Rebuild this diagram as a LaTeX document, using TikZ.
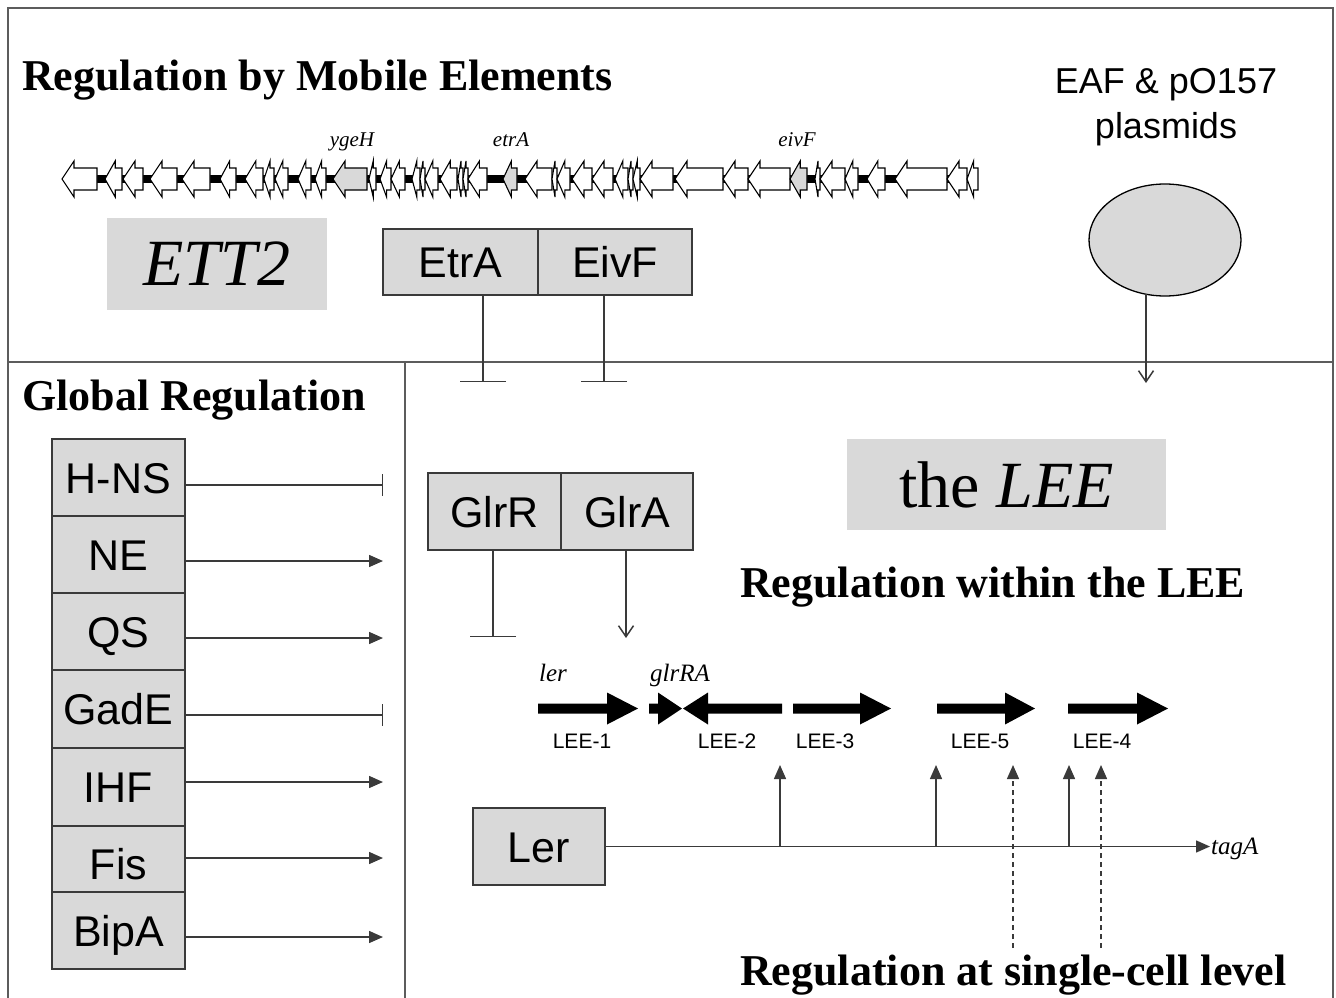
\documentclass[tikz,border=0pt]{standalone}
\usepackage{fontspec}
\setmainfont{Liberation Serif}
\setsansfont{Liberation Sans}
\usetikzlibrary{arrows.meta,shapes.geometric,calc}

\definecolor{boxgray}{HTML}{D9D9D9}
\definecolor{framegray}{HTML}{5C5C5C}
\definecolor{wire}{HTML}{3A3A3A}

\newcommand{\fsz}[1]{\fontsize{#1}{#1}\selectfont}

\begin{document}
\begin{tikzpicture}[x=1pt,y=-1pt,
  panel/.style={draw=framegray, line width=2.5pt},
  gbox/.style={draw=wire, fill=boxgray, line width=1.4pt, inner sep=0pt,
    font=\sffamily\fsz{43}, text height=31pt, text depth=0pt},
  graybox/.style={fill=boxgray, inner sep=0pt},
  title/.style={anchor=base west, inner sep=0pt, font=\bfseries\fsz{44}},
  wireline/.style={draw=wire, line width=1.5pt},
  act/.style={wireline, -{Triangle[length=14pt,width=12pt]}},
  actopen/.style={wireline, -{Straight Barb[length=11pt,width=15pt]}},
  inhshort/.style={wireline, -{Bar[width=22pt]}},
  inhwide/.style={wireline, -{Bar[width=46pt]}},
  dashact/.style={act, dash pattern=on 5pt off 4pt},
  genelabel/.style={font=\itshape\fsz{21}, anchor=base, inner sep=0pt},
  leelabel/.style={font=\sffamily\fsz{21}, inner sep=0pt},
  oplabel/.style={font=\itshape\fsz{25}, anchor=base, inner sep=0pt},
]
\useasboundingbox (0,0) rectangle (1336,998);

% panel frame and dividers
\draw[panel] (8,998) -- (8,8) -- (1333,8) -- (1333,998);
\draw[panel] (8,362) -- (1333,362);
\draw[panel] (405,362) -- (405,998);

% ---------------- mobile elements ----------------
\node[title] (tmob) at (22,90) {Regulation by Mobile Elements};

% ETT2 gene map: backbone then genes (start/end/direction/fill)
\draw[line width=8pt] (64,179) -- (976,179);
\foreach \s/\e/\d/\c in {
  62/97/L/white, 105/122/L/white, 123/143/L/white, 150/177/L/white,
  182/210/R/white, 220/236/R/white, 245/263/R/white, 264/274/R/white,
  275/288/L/white, 298/311/R/white, 315/326/R/white, 333/367/R/boxgray,
  369/376/R/white, 380/391/R/white, 391/405/L/white, 412/420/R/white,
  420/425/L/white, 425/438/L/white, 440/457/L/white, 458/463/L/white,
  463/468/L/white, 468/487/L/white, 503/517/R/boxgray, 525/552/L/white,
  552/557/R/white, 557/570/L/white, 572/592/L/white, 592/613/L/white,
  615/628/L/white, 628/633/L/white, 633/640/L/white, 640/673/L/white,
  675/723/L/white, 723/748/L/white, 748/790/L/white, 790/807/L/boxgray,
  815/820/L/white, 820/845/L/white, 845/858/L/white, 867/885/L/white,
  895/947/R/white, 947/967/R/white, 967/978/R/white}{
  \pgfmathsetmacro{\h}{min(12,0.6*(\e-\s))}
  \ifx\d R
    \filldraw[fill=\c, draw=black, line width=1.1pt]
      (\s,168) -- (\e-\h,168) -- (\e-\h,161) -- (\e,179) -- (\e-\h,197)
      -- (\e-\h,190) -- (\s,190) -- cycle;
  \else
    \filldraw[fill=\c, draw=black, line width=1.1pt]
      (\e,168) -- (\s+\h,168) -- (\s+\h,161) -- (\s,179) -- (\s+\h,197)
      -- (\s+\h,190) -- (\e,190) -- cycle;
  \fi
}
\node[genelabel] (ygeh) at (352,146) {ygeH};
\node[genelabel] (etrag) at (511,146) {etrA};
\node[genelabel] (eivfg) at (797,146) {eivF};

\node[graybox, minimum width=220pt, minimum height=92pt, font=\itshape\fsz{66}]
  (ett2) at (217,264) {ETT2};

\node[gbox, minimum width=155pt, minimum height=66pt] (etra) at (460.5,262) {EtrA};
\node[gbox, minimum width=154pt, minimum height=66pt] (eivf) at (615,262) {EivF};
\coordinate (etraT) at (483,382);
\coordinate (eivfT) at (604,382);
\draw[inhwide] (etra.south -| etraT) -- (etraT);
\draw[inhwide] (eivf.south -| eivfT) -- (eivfT);

\node[font=\sffamily\fontsize{36}{45}\selectfont, align=center] (eaf)
  at (1166,107) {EAF \& pO157\\plasmids};
\node[ellipse, draw=black, fill=boxgray, line width=1.3pt,
  minimum width=152pt, minimum height=112pt, inner sep=0pt] (plasmid) at (1165,240) {};
\coordinate (pout) at (1146,294);
\coordinate (pin) at (1146,383);
\draw[actopen] (pout) -- (pin);

% ---------------- global regulation ----------------
\node[title] (tglob) at (22,410) {Global Regulation};

\node[gbox, minimum width=133pt, minimum height=77pt] (hns)  at (118.5,477.5) {H-NS};
\node[gbox, minimum width=133pt, minimum height=77pt] (ne)   at (118.5,554.5) {NE};
\node[gbox, minimum width=133pt, minimum height=77pt] (qs)   at (118.5,631.5) {QS};
\node[gbox, minimum width=133pt, minimum height=78pt] (gade) at (118.5,709) {GadE};
\node[gbox, minimum width=133pt, minimum height=78pt] (ihf)  at (118.5,787) {IHF};
\node[gbox, minimum width=133pt, minimum height=66pt] (fis)  at (118.5,859) {\raisebox{-5pt}{Fis}};
\node[gbox, minimum width=133pt, minimum height=77pt] (bipa) at (118.5,930.5) {BipA};

\coordinate (ghns) at (383,485);
\coordinate (gne) at (383,561);
\coordinate (gqs) at (383,638);
\coordinate (ggade) at (383,715);
\coordinate (gihf) at (383,782);
\coordinate (gfis) at (383,858);
\coordinate (gbipa) at (383,937);
\draw[inhshort] (ghns -| hns.east) -- (ghns);
\draw[act] (gne -| ne.east) -- (gne);
\draw[act] (gqs -| qs.east) -- (gqs);
\draw[inhshort] (ggade -| gade.east) -- (ggade);
\draw[act] (gihf -| ihf.east) -- (gihf);
\draw[act] (gfis -| fis.east) -- (gfis);
\draw[act] (gbipa -| bipa.east) -- (gbipa);

% ---------------- the LEE ----------------
\node[graybox, minimum width=319pt, minimum height=91pt, font=\fsz{66}]
  (lee) at (1006.5,484.5) {the \textit{LEE}};

\node[gbox, minimum width=133pt, minimum height=77pt] (glrr) at (494.5,511.5) {GlrR};
\node[gbox, minimum width=132pt, minimum height=77pt] (glra) at (627,511.5) {GlrA};
\coordinate (glrrT) at (493,637);
\coordinate (glraT) at (626,638);
\draw[inhwide] (glrr.south -| glrrT) -- (glrrT);
\draw[actopen] (glra.south -| glraT) -- (glraT);

\node[title] (twithin) at (740,597) {Regulation within the LEE};

% operons: tail/tip/head length (right-pointing) or tip/tail (left)
\foreach \t/\p/\h in {538/638/31, 649/682/24, 793/891/31, 937/1035/30, 1068/1168/31}{
  \fill (\t,703.5) -- (\p-\h,703.5) -- (\p-\h,692.5) -- (\p,708.5)
    -- (\p-\h,724.5) -- (\p-\h,713.5) -- (\t,713.5) -- cycle;
}
\fill (782,703.5) -- (708,703.5) -- (708,692.5) -- (683,708.5)
  -- (708,724.5) -- (708,713.5) -- (782,713.5) -- cycle;

\node[oplabel] (lerg) at (553,681) {ler};
\node[oplabel] (glrrag) at (680,681) {glrRA};
\node[leelabel] (lee1) at (582,741) {LEE-1};
\node[leelabel] (lee2) at (727,741) {LEE-2};
\node[leelabel] (lee3) at (825,741) {LEE-3};
\node[leelabel] (lee5) at (980,741) {LEE-5};
\node[leelabel] (lee4) at (1102,741) {LEE-4};

% Ler activation along the island
\node[gbox, minimum width=132pt, minimum height=77pt] (ler) at (539,846.5) {Ler};
\node[font=\itshape\fsz{25}, anchor=west, inner sep=1pt] (taga) at (1210,849) {tagA};
\draw[act] (ler.east) -- (ler.east -| taga.west);

\coordinate (b1) at (780,846.5);   \coordinate (u1) at (780,765);
\coordinate (b2) at (936,846.5);   \coordinate (u2) at (936,765);
\coordinate (b3) at (1069,846.5);  \coordinate (u3) at (1069,765);
\draw[act] (b1) -- (u1);
\draw[act] (b2) -- (u2);
\draw[act] (b3) -- (u3);

\coordinate (d1) at (1013,948);  \coordinate (v1) at (1013,765);
\coordinate (d2) at (1101,948);  \coordinate (v2) at (1101,765);
\draw[dashact] (d1) -- (v1);
\draw[dashact] (d2) -- (v2);

\node[title] (tsingle) at (740,985) {Regulation at single-cell level};
\end{tikzpicture}
\end{document}
